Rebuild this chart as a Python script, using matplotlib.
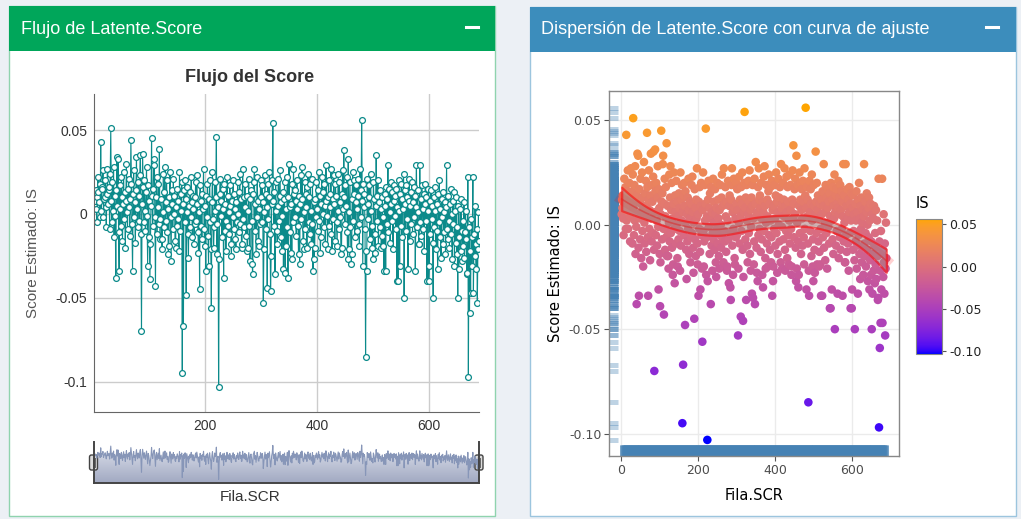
import numpy as np
import matplotlib
matplotlib.use("Agg")
import matplotlib.pyplot as plt
from matplotlib.colors import ListedColormap, LinearSegmentedColormap
from matplotlib.patches import Rectangle, FancyBboxPatch

plt.rcParams['font.family'] = ['Liberation Sans', 'DejaVu Sans']
plt.rcParams['axes.unicode_minus'] = False

W, H = 1021, 519

# Score estimado IS por fila (en milesimas)
is_milli = [
    5, 12, 8, 14, 3, -5, 10, 22, 13, 7, 18, -2, 43, 2, 16, 15, 26, -2, 9, 10, 20, 4, -8, 12, 27, 6, 14, 16, -9, 24,
    51, 8, -5, 19, 2, 28, -14, 11, -1, -38, 14, 34, 5, 33, -11, -34, 17, 3, -7, 22, 10, -16, 6, 25, -3, 13, -20, 8, 30, 1,
    -9, 15, 4, 21, -13, 9, 44, 18, -6, -34, 12, 26, -2, 7, -17, 14, 34, 3, -8, 19, 11, -4, 23, 35, -12, -70, 6, 36, 16, -5,
    20, 2, -10, 13, 28, -1, -31, 17, 8, -14, -39, -18, 5, 45, 11, -7, 15, 29, 33, -2, -43, 10, 22, -12, 4, 18, -6, 39, -15, -3,
    9, -15, -21, 1, 24, -8, 13, 28, -4, 7, 20, -11, 3, -24, -19, 10, 25, -2, -28, 14, 6, -9, 21, 0, 11, -16, -20, 4, -7, 15,
    8, -3, -22, 25, -10, 12, 2, 19, -95, 6, -67, 14, -5, 20, 9, -48, 16, 1, -12, -26, 5, -8, 13, -2, 22, 7, -14, 11, 3, -18,
    -6, 10, 19, -4, 23, 6, -11, -23, 1, -45, 17, -7, 8, -15, 12, 3, 27, -9, -19, 5, -34, 11, -2, 18, -13, -31, 9, 20, -5, -21,
    -56, 7, 25, -3, -20, -8, 19, 2, 10, 46, -24, -6, 4, -103, -27, 12, 21, -1, 8, -14, 15, 3, -38, 18, -10, 6, -22, -4, 22, -7,
    11, 1, -12, 17, 5, -18, -25, 8, -2, 20, -9, 12, 3, -15, -21, 7, -5, 19, 0, -11, 13, 24, -6, 9, -20, -18, 27, -3, 10, -8,
    18, 4, -13, 11, -22, -20, 2, 21, -7, -28, 9, 14, -4, -30, -36, 12, 19, 27, -10, 6, -24, -2, 22, 8, -16, -19, 3, -6, 20, 10,
    -5, 17, 7, -53, -21, 1, 23, -9, 12, 4, -44, 18, -3, 10, 25, -12, -46, -25, 6, 20, 54, 8, -7, 13, -36, 19, 2, -10, -18, 5,
    21, -4, 11, 26, -14, 7, -22, -1, 13, -33, 9, 19, -35, 3, -19, -8, 22, -38, 10, 30, 4, -11, -23, 6, -27, 18, -5, 27, 12, -2,
    14, 8, -13, 20, 3, -7, -24, 11, -30, 6, 23, -3, 28, 9, -16, -21, 1, 19, -9, 12, 4, -20, 16, 24, -5, 10, -12, 18, 2, -18,
    -6, 21, -34, 7, -27, -20, 9, -2, 19, 3, -10, 14, 25, -4, 11, -23, -14, 6, 22, 0, 13, -8, 18, 5, -18, 29, 8, -1, -21, 10,
    20, -7, 12, 4, 27, -12, -22, 9, -3, 23, 6, -16, 18, 11, -5, -19, 2, 24, -9, 19, 7, -2, -24, -20, 12, 26, 3, 38, 10, -6,
    17, 5, 22, -11, -27, 33, -21, 1, 19, -8, -30, -24, 9, 25, -4, 12, 20, -14, 7, 17, 3, -10, 21, 11, -6, -19, 27, -2, 14, 56,
    8, -31, 18, 4, 12, -9, -85, -22, -34, 21, 6, -3, 17, 10, -15, 24, 2, -20, -7, -27, 19, 9, -12, -23, 5, 35, 11, -4, 20, -19,
    7, 14, -8, 3, -20, -13, 10, -19, -2, -34, 12, 5, -34, 16, -6, 9, 29, -11, 15, 1, -17, 19, 6, -4, 13, -21, 8, 17, -1, 11,
    -9, 15, -40, 4, -40, 20, 2, -31, 12, -7, 18, -14, 9, 3, 24, -50, 6, 14, -10, 17, -3, 10, -33, 8, 21, -16, 5, 13, -6, 19,
    -12, 7, 16, -2, 11, -34, 4, 29, -8, 14, 1, -18, -18, 29, -5, 9, -13, 17, 3, -9, 12, -22, 6, 18, -4, 10, -40, 2, 15, -40,
    -31, 8, -12, 14, -3, 5, -17, -50, 10, -8, 2, 16, -21, 6, -10, -33, 12, -5, 20, -14, 3, -26, 9, -2, 13, -18, 1, -11, 7, -24,
    4, 29, -9, -15, 11, -4, -20, 6, 15, -12, 0, -27, 8, -6, 13, -31, 2, -17, 10, -24, -8, -50, 5, -33, -14, 3, -22, 9, -10, -28,
    -4, -19, 7, -26, -11, 2, -15, -36, -35, 22, -97, -8, -59, -22, -47, -3, -31, -14, 22, -47, -12, -25, 5, -18, -33, -9, -53, -21, 1, -16,
]
score = np.array(is_milli) / 1000.0
fila = np.arange(1, len(score) + 1)

left_yticks = [0.05, 0, -0.05, -0.1]
left_ylabels = ["0.05", "0", "-0.05", "-0.1"]
left_xticks = [200, 400, 600]
right_yticks = [0.05, 0.0, -0.05, -0.10]
right_ylabels = ["0.05", "0.00", "-0.05", "-0.10"]
right_xticks = [0, 200, 400, 600]


def px(l, t, w, h):
    return [l / W, 1 - (t + h) / H, w / W, h / H]


# gradiente azul -> naranja interpolado en Lab (como ggplot)
M = np.array([[0.4124, 0.3576, 0.1805], [0.2126, 0.7152, 0.0722], [0.0193, 0.1192, 0.9505]])
WHITE = np.array([0.95047, 1.0, 1.08883])


def to_lab(c):
    c = np.asarray(c, float)
    lin = np.where(c <= 0.04045, c / 12.92, ((c + 0.055) / 1.055) ** 2.4)
    xyz = M @ lin / WHITE
    f = np.where(xyz > 0.008856, np.cbrt(xyz), 7.787 * xyz + 16 / 116)
    return np.array([116 * f[1] - 16, 500 * (f[0] - f[1]), 200 * (f[1] - f[2])])


def from_lab(lab):
    fy = (lab[0] + 16) / 116
    f = np.array([fy + lab[1] / 500, fy, fy - lab[2] / 200])
    xyz = np.where(f ** 3 > 0.008856, f ** 3, (f - 16 / 116) / 7.787) * WHITE
    lin = np.clip(np.linalg.inv(M) @ xyz, 0, 1)
    c = np.where(lin <= 0.0031308, 12.92 * lin, 1.055 * lin ** (1 / 2.4) - 0.055)
    return np.clip(c, 0, 1)


lab_lo, lab_hi = to_lab([0, 0, 1]), to_lab([1, 165 / 255, 0])
cmap = ListedColormap([from_lab(lab_lo + t * (lab_hi - lab_lo)) for t in np.linspace(0, 1, 256)])


# loess (span 0.75, grado 2) con banda de confianza
def loess(x, y, xs, span=0.75):
    q = int(np.floor(len(x) * span))

    def rows(pts):
        out = []
        for x0 in pts:
            d = np.abs(x - x0)
            h = np.sort(d)[q - 1]
            w = np.where(d < h, (1 - (d / h) ** 3) ** 3, 0)
            X = np.column_stack([np.ones_like(x), x - x0, (x - x0) ** 2])
            XtW = X.T * w
            out.append(np.linalg.solve(XtW @ X, XtW)[0])
        return np.array(out)

    Lx = rows(x)
    res = y - Lx @ y
    sigma = np.sqrt(np.sum(res ** 2) / (len(x) - np.trace(Lx)))
    Ls = rows(xs)
    fit = Ls @ y
    se = sigma * np.sqrt(np.sum(Ls ** 2, axis=1))
    return fit, fit - 1.96 * se, fit + 1.96 * se


xs = np.linspace(fila.min(), fila.max(), 120)
fit, lo, hi = loess(fila.astype(float), score, xs)

fig = plt.figure(figsize=(W / 100, H / 100), dpi=100, facecolor='#ecf0f5')
bg = fig.add_axes([0, 0, 1, 1], zorder=-1)
bg.set_xlim(0, W)
bg.set_ylim(H, 0)
bg.axis('off')

# cajas
bg.add_patch(Rectangle((9, 6), 486, 510, fc='white', ec='#8fd3ae', lw=1))
bg.add_patch(Rectangle((9, 6), 486, 45, fc='#00a65a', ec='none'))
bg.add_patch(Rectangle((530, 7), 486, 509, fc='white', ec='#9cc5de', lw=1))
bg.add_patch(Rectangle((530, 7), 486, 45, fc='#3c8dbc', ec='none'))
bg.text(21, 29, "Flujo de Latente.Score", color='white', fontsize=13, va='center')
bg.text(541, 29, "Dispersión de Latente.Score con curva de ajuste", color='white', fontsize=13, va='center')
bg.plot([466, 478], [27, 27], color='white', lw=2.2)
bg.plot([986, 998], [27, 27], color='white', lw=2.2)

# ---- grafico izquierdo (flujo) ----
bg.text(250, 78, "Flujo del Score", fontsize=13, fontweight='bold', color='#333333', ha='center', va='center')
bg.text(33, 253, "Score Estimado: IS", fontsize=11, color='#555555', rotation=90, ha='center', va='center')
bg.text(250, 497, "Fila.SCR", fontsize=11, color='#333333', ha='center', va='center')

ax1 = fig.add_axes(px(94, 94, 385, 318))
ax1.plot(fila, score, color='#0b8a8a', lw=0.8, marker='o', ms=4.2,
         mfc='white', mec='#0b8a8a', mew=0.9)
ax1.set_xlim(fila[0], fila[-1])
ax1.set_ylim(-0.118, 0.0715)
ax1.set_xticks(left_xticks)
ax1.set_yticks(left_yticks)
ax1.set_yticklabels(left_ylabels)
ax1.grid(color='#cccccc', lw=1)
ax1.set_axisbelow(True)
for s in ['top', 'right']:
    ax1.spines[s].set_visible(False)
for s in ['left', 'bottom']:
    ax1.spines[s].set_color('#666666')
ax1.tick_params(length=0, labelsize=10, labelcolor='#333333', pad=5)

# selector de rango
ax2 = fig.add_axes(px(94, 442, 385, 41))
ax2.set_xlim(fila[0], fila[-1])
ax2.set_ylim(-0.12, 0.07)
area = ax2.fill_between(fila, score, -0.12, color='none')
grad = ax2.imshow(np.linspace(0, 1, 100).reshape(-1, 1), extent=[fila[0], fila[-1], -0.12, 0.07],
                  origin='lower', aspect='auto',
                  cmap=LinearSegmentedColormap.from_list('rs', ['#a1a9c2', '#e4e7f0']))
grad.set_clip_path(area.get_paths()[0], transform=ax2.transData)
ax2.plot(fila, score, color='#8796b8', lw=0.8)
ax2.set_xticks([])
ax2.set_yticks([])
ax2.spines['top'].set_visible(False)
for s in ['left', 'right', 'bottom']:
    ax2.spines[s].set_color('#444444')
    ax2.spines[s].set_linewidth(1.4)
for hx in (89.5, 475):
    ax2.add_patch(FancyBboxPatch((hx, 455), 8, 15, boxstyle='round,pad=0,rounding_size=2',
                                 fc='#dcdcdc', ec='#444444', lw=1, transform=bg.transData, clip_on=False))
    ax2.plot([hx + 3, hx + 3], [458, 467], color='#666666', lw=0.7, transform=bg.transData, clip_on=False)
    ax2.plot([hx + 5, hx + 5], [458, 467], color='#666666', lw=0.7, transform=bg.transData, clip_on=False)

# ---- grafico derecho (dispersion) ----
fr = 'DejaVu Sans'
bg.text(754, 495, "Fila.SCR", fontsize=10.5, family=fr, color='black', ha='center', va='center')
bg.text(555, 273, "Score Estimado: IS", fontsize=10.5, family=fr, color='black', rotation=90,
        ha='center', va='center')
bg.text(916, 203, "IS", fontsize=10.5, family=fr, color='black', va='center')

ax3 = fig.add_axes(px(609, 91, 290, 365))
ax3.set_xlim(-32, 723)
ax3.set_ylim(-0.1107, 0.064)
ax3.set_xticks(right_xticks)
ax3.set_yticks(right_yticks)
ax3.set_yticklabels(right_ylabels)
ax3.grid(color='#ebebeb', lw=1)
ax3.set_axisbelow(True)
ax3.hlines(score, 0, 0.03, transform=ax3.get_yaxis_transform(), colors='#4682b4', alpha=0.35, lw=3.6)
ax3.vlines(fila, 0, 0.03, transform=ax3.get_xaxis_transform(), colors='#4682b4', alpha=0.35, lw=3.6)
sc = ax3.scatter(fila, score, c=score, cmap=cmap, vmin=score.min(), vmax=score.max(),
                 s=38, linewidths=0, zorder=3)
ax3.plot(xs, fit, color='red', alpha=0.18, lw=8, zorder=4)
ax3.fill_between(xs, lo, hi, fc=(0.6, 0.6, 0.6, 0.45), ec=(1, 0, 0, 0.55), lw=1.6, zorder=4)
ax3.plot(xs, fit, color='#dd2222', alpha=0.5, lw=1.2, zorder=5)
for s in ax3.spines.values():
    s.set_color('#888888')
    s.set_linewidth(1)
ax3.tick_params(length=3.5, width=0.8, color='#555555', labelsize=9, labelcolor='#4d4d4d', pad=2)
for lab in ax3.get_xticklabels() + ax3.get_yticklabels():
    lab.set_family(fr)

cax = fig.add_axes(px(916, 219, 26, 135))
cb = fig.colorbar(sc, cax=cax)
cb.set_ticks(right_yticks)
cb.set_ticklabels(right_ylabels)
cb.outline.set_edgecolor('#888888')
cax.tick_params(length=3, width=0.8, color='#555555', labelsize=9, labelcolor='#222222', pad=2)
for lab in cax.get_yticklabels():
    lab.set_family(fr)

fig.savefig('out.png', dpi=100, facecolor=fig.get_facecolor())
